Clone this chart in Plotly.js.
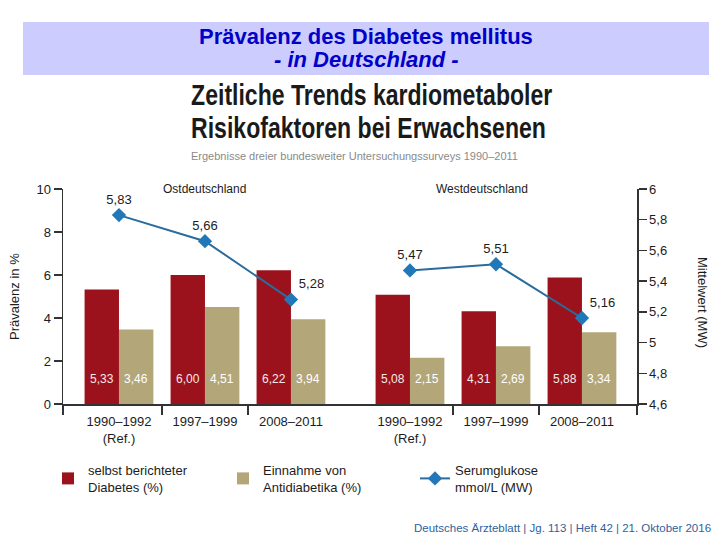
<!DOCTYPE html>
<html>
<head>
<meta charset="utf-8">
<script src="https://cdn.plot.ly/plotly-3.0.1.min.js"></script>
<style>html,body{margin:0;padding:0;background:#fff;}#chart{width:720px;height:540px;}</style>
</head>
<body>
<div id="chart"></div>
<script>
// ---- data ----
const regions = ['Ostdeutschland', 'Westdeutschland'];
const periods = ['1990–1992<br>(Ref.)', '1997–1999', '2008–2011'];
const diabetesOst = [5.33, 6.00, 6.22];
const diabetesWest = [5.08, 4.31, 5.88];
const antidiabetikaOst = [3.46, 4.51, 3.94];
const antidiabetikaWest = [2.15, 2.69, 3.34];
const glukoseOst = [5.83, 5.66, 5.28];
const glukoseWest = [5.47, 5.51, 5.16];
const leftTicks = [0, 2, 4, 6, 8, 10];
const rightTicks = [4.6, 4.8, 5.0, 5.2, 5.4, 5.6, 5.8, 6.0];

// ---- layout helpers ----
const FONT = '"Liberation Sans", Arial, sans-serif';
const L = 63, R = 637, T = 189, B = 404;
const px = x => (x - L) / (R - L);
const py = y => (B - y) / (B - T);
const westShift = 3.384;
const xOst = periods.map((_, i) => i);
const xWest = periods.map((_, i) => i + westShift);
const xAll = xOst.concat(xWest);
const fmt = (v, d) => v.toFixed(d).replace('.', ',');
const xRange = [-0.651, 6.024];

const red = '#9c121c', tan = '#b3a77a', blue = '#2a6c9c', mark = '#2078b8', ink = '#1c1c1c';

const lineLabelFont = {family: FONT, size: 13, color: ink};
const traces = [
  {type: 'bar', name: 'selbst berichteter<br>Diabetes (%)', x: xAll,
   y: diabetesOst.concat(diabetesWest), offset: -0.4, width: 0.4,
   marker: {color: red}, hoverinfo: 'skip'},
  {type: 'bar', name: 'Einnahme von<br>Antidiabetika (%)', x: xAll,
   y: antidiabetikaOst.concat(antidiabetikaWest), offset: 0, width: 0.4,
   marker: {color: tan}, hoverinfo: 'skip'},
  {type: 'scatter', mode: 'lines+markers+text', name: 'Serumglukose<br>mmol/L (MW)',
   x: xOst, y: glukoseOst, xaxis: 'x2', yaxis: 'y2', legendgroup: 'g', legend: 'legend2',
   line: {color: blue, width: 2}, marker: {symbol: 'diamond', size: 11, color: mark},
   text: glukoseOst.map(v => fmt(v, 2)), textposition: ['top center', 'top center', 'top right'],
   textfont: lineLabelFont, cliponaxis: false},
  {type: 'scatter', mode: 'lines+markers+text', name: 'Serumglukose<br>mmol/L (MW)',
   x: xWest, y: glukoseWest, xaxis: 'x2', yaxis: 'y2', legendgroup: 'g', legend: 'legend2', showlegend: false,
   line: {color: blue, width: 2}, marker: {symbol: 'diamond', size: 11, color: mark},
   text: glukoseWest.map(v => fmt(v, 2)), textposition: ['top center', 'top center', 'top right'],
   textfont: lineLabelFont, cliponaxis: false}
];

const annotations = [];
const ann = o => annotations.push(Object.assign({showarrow: false, xanchor: 'center', yanchor: 'middle'}, o));
// values inside bars
const dAll = diabetesOst.concat(diabetesWest), aAll = antidiabetikaOst.concat(antidiabetikaWest);
xAll.forEach((x, i) => {
  ann({x: x - 0.2, y: 1.15, xref: 'x', yref: 'y', text: fmt(dAll[i], 2),
    font: {family: FONT, size: 12, color: '#f6e8e8'}});
  ann({x: x + 0.2, y: 1.15, xref: 'x', yref: 'y', text: fmt(aAll[i], 2),
    font: {family: FONT, size: 12, color: '#ffffff'}});
});
// region labels
ann({x: 1, y: 1.0, xref: 'x', yref: 'paper', text: regions[0], font: {family: FONT, size: 12, color: ink}});
ann({x: 1 + westShift - 0.16, y: 1.0, xref: 'x', yref: 'paper', text: regions[1], font: {family: FONT, size: 12, color: ink}});
// axis titles
ann({x: px(14), y: py(296), xref: 'paper', yref: 'paper', text: 'Prävalenz in %', textangle: -90,
  font: {family: FONT, size: 13, color: ink}});
ann({x: px(703), y: py(302), xref: 'paper', yref: 'paper', text: 'Mittelwert (MW)', textangle: 90,
  font: {family: FONT, size: 13, color: ink}});
// header
ann({x: px(366), y: py(37), xref: 'paper', yref: 'paper', text: '<b>Prävalenz des Diabetes mellitus</b>',
  font: {family: FONT, size: 22, color: '#0000c8'}});
ann({x: px(366), y: py(59), xref: 'paper', yref: 'paper', text: '<b><i>- in Deutschland -</i></b>',
  font: {family: FONT, size: 22, color: '#0000c8'}});
// main title (condensed look via horizontal scale after render)
ann({x: px(189), y: py(95), xref: 'paper', yref: 'paper', xanchor: 'left', text: '<b>Zeitliche Trends kardiometaboler</b>',
  font: {family: FONT, size: 29, color: '#1a1a1a'}});
ann({x: px(189), y: py(128.5), xref: 'paper', yref: 'paper', xanchor: 'left', text: '<b>Risikofaktoren bei Erwachsenen</b>',
  font: {family: FONT, size: 29, color: '#1a1a1a'}});
ann({x: px(189), y: py(156), xref: 'paper', yref: 'paper', xanchor: 'left', text: 'Ergebnisse dreier bundesweiter Untersuchungssurveys 1990–2011',
  font: {family: FONT, size: 11, color: '#8a8a8a'}});
// footer
ann({x: px(713), y: py(528), xref: 'paper', yref: 'paper', xanchor: 'right',
  text: 'Deutsches Ärzteblatt | Jg. 113 | Heft 42 | 21. Oktober 2016',
  font: {family: FONT, size: 11.5, color: '#2f5f9e'}});

const axisFont = {family: FONT, size: 13, color: ink};
const legendFont = {family: FONT, size: 13, color: ink};
const layout = {
  width: 720, height: 540,
  margin: {l: L, r: 720 - R, t: T, b: 540 - B, pad: 0},
  paper_bgcolor: '#fff', plot_bgcolor: '#fff',
  separators: ',.',
  barmode: 'overlay',
  showlegend: true,
  legend: {orientation: 'h', x: px(48), y: py(455), xanchor: 'left', yanchor: 'top',
    font: legendFont, itemwidth: 30, entrywidth: 130, entrywidthmode: 'pixels',
    traceorder: 'normal', bgcolor: 'rgba(0,0,0,0)'},
  legend2: {orientation: 'h', x: px(415), y: py(455), xanchor: 'left', yanchor: 'top',
    font: legendFont, itemwidth: 30, bgcolor: 'rgba(0,0,0,0)'},
  xaxis: {range: xRange, tickvals: [-0.649, 0.5, 1.5, 0.5 + westShift, 1.5 + westShift, 6.022], ticktext: ['', '', '', '', '', ''],
    ticks: 'outside', ticklen: 9, tickcolor: '#333', tickwidth: 2, showline: true, linecolor: '#333', linewidth: 1.5,
    showgrid: false, zeroline: false, fixedrange: true},
  xaxis2: {range: xRange, overlaying: 'x', anchor: 'y', side: 'bottom', tickvals: xAll, ticktext: periods.concat(periods),
    ticks: '', showline: false, showgrid: false, zeroline: false, tickfont: axisFont, ticklabelstandoff: 8},
  yaxis: {range: [0, 10], tickvals: leftTicks, ticks: 'outside', ticklen: 8, tickcolor: '#333', tickwidth: 1.5,
    showline: true, linecolor: '#333', linewidth: 1.5, showgrid: false, zeroline: false, tickfont: axisFont},
  yaxis2: {range: [4.6, 6], overlaying: 'y', anchor: 'x', side: 'right', tickvals: rightTicks, ticks: 'outside', ticklen: 8,
    tickcolor: '#333', tickwidth: 1.5, showline: true, linecolor: '#333', linewidth: 1.5, showgrid: false,
    zeroline: false, tickfont: axisFont},
  shapes: [{type: 'rect', xref: 'paper', yref: 'paper', x0: px(23), x1: px(709), y0: py(22), y1: py(75),
    fillcolor: '#ccccff', line: {width: 0}, layer: 'below'}],
  annotations: annotations
};
Plotly.newPlot('chart', traces, layout, {displayModeBar: false, staticPlot: true}).then(gd => {
  // emulate the condensed headline typeface by narrowing the two title lines
  gd.querySelectorAll('.annotation-text').forEach(t => {
    const s = t.textContent;
    if (s.indexOf('Zeitliche') === 0 || s.indexOf('Risikofaktoren') === 0) {
      t.style.transformBox = 'fill-box';
      t.style.transformOrigin = '0% 50%';
      t.style.transform = 'scaleX(0.795)';
    }
  });
});
</script>
</body>
</html>
